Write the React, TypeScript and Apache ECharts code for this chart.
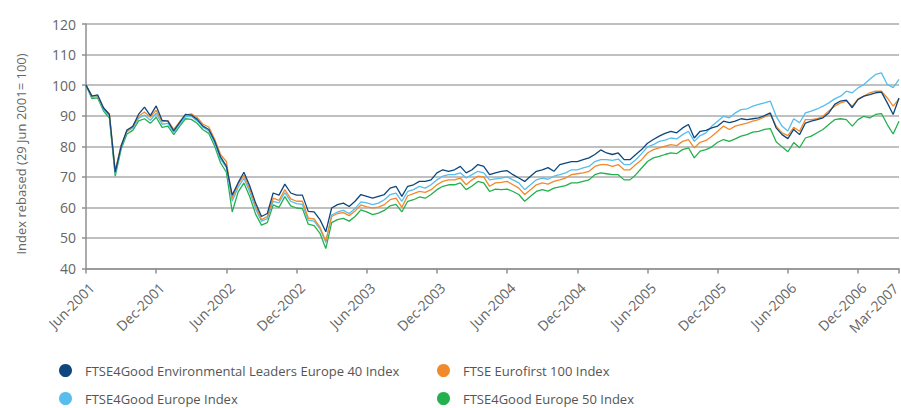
import { useEffect, useRef } from "react";
import * as echarts from "echarts";

// Tick labels on the time axis (one every 6 months, plus the last observation)
const tickLabels = [
  "Jun-2001", "Dec-2001", "Jun-2002", "Dec-2002", "Jun-2003", "Dec-2003",
  "Jun-2004", "Dec-2004", "Jun-2005", "Dec-2005", "Jun-2006", "Dec-2006", "Mar-2007",
];

const yAxisTitle = "Index rebased (29 Jun 2001= 100)";

const nameEnv40 = "FTSE4Good Environmental Leaders Europe 40 Index";
const nameEuro100 = "FTSE Eurofirst 100 Index";
const nameEurope = "FTSE4Good Europe Index";
const nameEurope50 = "FTSE4Good Europe 50 Index";

// Observations every half month, starting 29 Jun 2001 (index rebased = 100)
const STEP_MONTHS = 0.5;

const env40 = [
  100, 96.4, 96.8, 92.5, 90.4, 71.5, 80, 85.3, 86.5, 90.5,
  92.8, 90, 93.2, 88.5, 88.2, 85, 87.7, 90.4, 90.2, 88.8,
  86.6, 85.5, 81.7, 76.5, 73.5, 64, 68, 71.5, 67, 61.4,
  57, 58, 64.7, 64, 67.6, 64.7, 64, 64, 58.7, 58.5,
  56, 52, 59.8, 60.9, 61.4, 60.3, 62, 64.2, 63.6, 63,
  63.6, 64.2, 66.3, 66.9, 63.6, 66.9, 67.4, 68.5, 68.5, 69,
  71.3, 72.3, 71.8, 72.3, 73.4, 71.3, 72.3, 74, 73.4, 70.7,
  71.3, 71.8, 72, 70.7, 69.6, 68.5, 70.2, 71.8, 72.3, 73,
  71.8, 74, 74.5, 75, 75, 75.6, 76.2, 77.3, 78.8, 77.8,
  77.3, 77.8, 75.6, 75.6, 77.3, 78.9, 81, 82.2, 83.3, 84.2,
  84.9, 84.4, 86, 87.1, 82.7, 84.9, 85.2, 86, 86.6, 88.2,
  87.7, 88.2, 89, 88.7, 89, 89.3, 90, 90.9, 86, 83.8,
  82.5, 85.5, 83.8, 87.6, 88.2, 88.7, 89.3, 90.9, 93.7, 94.8,
  95.1, 92.6, 95.3, 96.4, 96.9, 97.5, 97.7, 94.2, 90.4, 95.8,
];

const europe = [
  100, 96, 96.2, 92, 89.8, 71, 79.5, 84.8, 86, 89.2,
  90.2, 88.5, 90.8, 87.2, 87.5, 84.5, 87.2, 89.6, 89.8, 88.3,
  86.2, 85, 81, 75.8, 73, 62, 66.5, 69.5, 65, 59.5,
  55.5, 56.3, 62, 61.5, 64.8, 62, 61.2, 61, 55.8, 55.5,
  53, 48.5, 57.5, 58.5, 59, 58, 59.6, 61.8, 61.5, 60.9,
  61.4, 62.5, 64.2, 64.7, 62, 65.2, 65.8, 66.9, 66.3, 67.4,
  69, 70.2, 70.7, 70.7, 71.3, 69.6, 70.7, 71.8, 71.3, 69,
  69.3, 69.6, 70, 69, 68, 65.8, 67.4, 69, 69.6, 69.2,
  70.2, 70.7, 71.3, 72.3, 72.3, 72.9, 73.4, 75, 75.6, 75.6,
  75.4, 75.8, 74, 74, 75.6, 77.6, 79.8, 80.5, 81.6, 82,
  82.7, 82.4, 83.8, 84.9, 81.6, 83.5, 84.4, 86.6, 88.2, 89.8,
  89.3, 90.9, 92, 92.2, 93.1, 93.7, 94.2, 94.8, 89.8, 86.6,
  85, 89, 87.7, 90.9, 91.5, 92.2, 93.1, 94.2, 95.5, 96.4,
  98, 97.5, 99.1, 100.2, 101.9, 103.5, 104, 100.2, 99.2, 101.9,
];

const euro100 = [
  100, 96.6, 96.5, 92.6, 90.6, 72, 80.3, 85, 86.3, 89.8,
  91.2, 89.5, 91.8, 88, 88.4, 85.5, 88, 90.2, 90.6, 89.4,
  87.2, 86.3, 82.3, 77.3, 75, 63, 67.5, 70.5, 66, 60.5,
  56, 57, 63, 62.3, 65.8, 62.8, 62, 62, 56.5, 56.2,
  53.5, 49, 57, 58, 58.3, 57.3, 58.8, 60.8, 60.2, 59.8,
  60.1, 60.9, 62.5, 63, 60, 63.8, 64.5, 65.2, 64.9, 65.8,
  67.4, 68.5, 69, 69, 69.6, 67.4, 69, 70.2, 70, 66.9,
  68, 68.2, 68.5, 67.4, 66.3, 64.2, 65.8, 67.4, 68, 67.6,
  68.5, 69, 69.6, 70.7, 71, 71.3, 71.8, 73.4, 74, 74,
  73.4, 74, 72.3, 72.3, 74, 75.6, 77.8, 78.9, 79.5, 80,
  80.5, 80.2, 81.6, 82.2, 79.5, 81.3, 81.9, 83.3, 84.9, 86.6,
  85.5, 86.6, 87.1, 87.6, 88.2, 88.7, 89.6, 90.4, 86.6, 84.4,
  83.5, 86.2, 84.9, 88.7, 88.7, 89, 89.8, 91.5, 93.1, 94.2,
  94.8, 93.1, 95.5, 96.4, 97.5, 98, 98, 95.8, 93.1, 95.5,
];

const europe50 = [
  100, 95.6, 95.8, 91.5, 89.2, 70.2, 79, 84, 85.2, 88.3,
  89, 87.5, 89.5, 86.2, 86.6, 83.8, 86.5, 89, 88.8, 87.5,
  85.4, 84.2, 80, 74.6, 71.5, 58.5, 65, 68, 63.5, 57.8,
  54.2, 55, 60.8, 60, 63.5, 60.5, 59.8, 59.6, 54.5, 54,
  51.5, 46.5, 55, 56, 56.4, 55.5, 57, 59.2, 58.5, 57.6,
  58.1, 59, 60.5, 61, 58.5, 62, 62.5, 63.4, 63, 64.2,
  65.8, 66.9, 67.4, 67.4, 68, 65.8, 67, 68.5, 68, 65.2,
  66, 65.8, 66, 65.2, 64.2, 62, 63.6, 65.2, 65.8, 65.3,
  66.3, 66.7, 67.1, 68, 68, 68.5, 69, 70.7, 71.3, 71,
  70.7, 70.7, 69, 69, 70.7, 72.9, 75, 76.2, 76.7, 77.3,
  77.8, 77.6, 78.9, 79.5, 76.2, 78.4, 78.9, 79.8, 81.3, 82.2,
  81.6, 82.4, 83.3, 83.8, 84.6, 84.9, 85.5, 85.8, 81.5, 79.8,
  78.2, 81.2, 79.5, 82.7, 83.3, 84.4, 85.5, 87.1, 88.7, 89,
  88.7, 86.6, 88.7, 89.8, 89.3, 90.4, 90.7, 87.1, 84, 88.2,
];

const FONT = "'Open Sans', 'Noto Sans', sans-serif";
const TEXT = "#666666";
const AXIS = "#8f8f8f";
const GRIDLINE = "#ababab";

export default function App() {
  const ref = useRef<HTMLDivElement>(null);

  useEffect(() => {
    document.body.style.margin = "0";
    const chart = echarts.init(ref.current!, null, { renderer: "svg" });
    const toPairs = (vals: number[]) => vals.map((v, i) => [i * STEP_MONTHS, v]);
    const lastX = (env40.length - 1) * STEP_MONTHS;

    const line = (name: string, data: number[], color: string) => ({
      name,
      type: "line",
      data: toPairs(data),
      showSymbol: false,
      symbol: "none",
      color,
      lineStyle: { color, width: 1.3 },
      emphasis: { disabled: true },
    });

    const legendBase = {
      orient: "vertical",
      top: 364,
      height: 60,
      padding: 0,
      icon: "circle",
      itemWidth: 13,
      itemHeight: 13,
      itemGap: 15,
      textStyle: { color: "#555555", fontSize: 13, fontFamily: FONT, padding: [0, 0, 0, 8] },
    };

    chart.setOption({
      animation: false,
      textStyle: { fontFamily: FONT },
      grid: {
        left: 86,
        right: 2,
        top: 24,
        bottom: 139.5,
        containLabel: false,
        outerBoundsMode: "none",
      },
      legend: [
        { ...legendBase, left: 59, data: [nameEnv40, nameEurope] },
        { ...legendBase, left: 437, data: [nameEuro100, nameEurope50] },
      ],
      graphic: [
        {
          type: "text",
          x: 21,
          y: 154,
          rotation: Math.PI / 2,
          silent: true,
          style: {
            text: yAxisTitle,
            fill: TEXT,
            fontSize: 13,
            fontFamily: FONT,
            align: "center",
            verticalAlign: "middle",
          },
        },
      ],
      xAxis: {
        type: "value",
        min: 0,
        max: lastX,
        interval: 6,
        axisLine: { show: true, onZero: false, lineStyle: { color: AXIS, width: 1.5 } },
        axisTick: { show: true, length: 5, lineStyle: { color: AXIS, width: 1.5 } },
        axisLabel: {
          rotate: 45,
          margin: 11,
          color: TEXT,
          fontSize: 14,
          fontFamily: FONT,
          showMinLabel: true,
          showMaxLabel: true,
          formatter: (_v: number, i: number) =>
            i === tickLabels.length - 1 ? `{last|${tickLabels[i]}}` : `{n|${tickLabels[i] ?? ""}}`,
          rich: {
            n: { color: TEXT, fontSize: 14, fontFamily: FONT, padding: [16, 0, 0, 0] },
            last: { color: TEXT, fontSize: 14, fontFamily: FONT, padding: [4, 7, 0, 0] },
          },
        },
        splitLine: { show: false },
      },
      yAxis: {
        type: "value",
        min: 40,
        max: 120,
        interval: 10,
        axisLine: { show: true, lineStyle: { color: AXIS, width: 1.5 } },
        axisTick: { show: true, length: 4, lineStyle: { color: AXIS, width: 1.5 } },
        axisLabel: { margin: 10, color: TEXT, fontSize: 14, fontFamily: FONT },
        splitLine: { show: true, lineStyle: { color: GRIDLINE, width: 1.5 } },
      },
      series: [
        line(nameEurope50, europe50, "#23b14d"),
        line(nameEurope, europe, "#56bdec"),
        line(nameEuro100, euro100, "#f28a2c"),
        line(nameEnv40, env40, "#0d477e"),
      ],
    });

    return () => chart.dispose();
  }, []);

  return <div ref={ref} style={{ width: 901, height: 408 }} />;
}
